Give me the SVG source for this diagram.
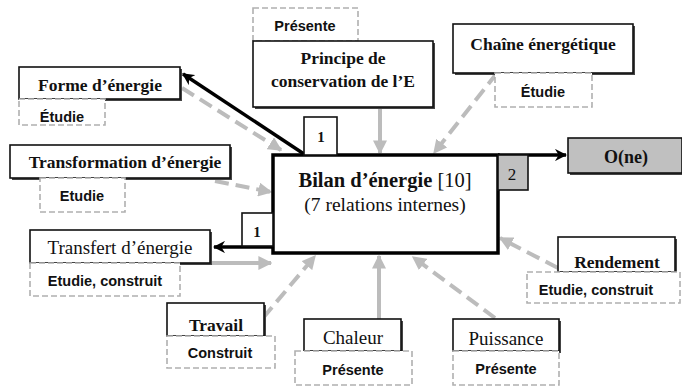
<svg xmlns="http://www.w3.org/2000/svg" width="682" height="387" viewBox="0 0 682 387">
<style>
.box{fill:#fff;stroke:#111;stroke-width:1.6}
.gbox{fill:#c0c0c0;stroke:#111;stroke-width:1.6}
.sh{fill:#444}
.dbox{fill:#fff;stroke:#b0b0b0;stroke-width:1.6;stroke-dasharray:6 3}
.t{font-family:"Liberation Serif",serif;font-size:17.5px;font-weight:bold;fill:#111;text-anchor:middle}
.n{font-family:"Liberation Serif",serif;font-size:19px;font-weight:normal;fill:#111;text-anchor:middle}
.s{font-family:"Liberation Sans",Arial,sans-serif;font-size:14.5px;font-weight:bold;fill:#111;text-anchor:middle}
.g{fill:none;stroke:#bcbcbc;stroke-width:4;stroke-dasharray:14 7}
.gs{fill:none;stroke:#bcbcbc;stroke-width:4}
.k{fill:none;stroke:#000;stroke-width:3.5}
</style>
<defs>
<marker id="ga" viewBox="0 0 10 10" refX="9" refY="5" markerWidth="3.5" markerHeight="3.5" orient="auto" markerUnits="strokeWidth"><path d="M0,0 L10,5 L0,10 Z" fill="#bcbcbc"/></marker>
<marker id="ka" viewBox="0 0 10 10" refX="9" refY="5" markerWidth="3.5" markerHeight="3.5" orient="auto" markerUnits="strokeWidth"><path d="M0,0 L10,5 L0,10 L3,5 Z" fill="#000"/></marker>
</defs>
<g id="connectors">
<line class="g" x1="182" y1="88" x2="281" y2="150" marker-end="url(#ga)"/>
<line class="g" x1="215" y1="181" x2="271" y2="192" marker-end="url(#ga)"/>
<line class="gs" x1="212" y1="263" x2="271" y2="263" marker-end="url(#ga)"/>
<line class="gs" x1="380" y1="107" x2="380" y2="153" marker-end="url(#ga)"/>
<line class="g" x1="497" y1="73" x2="434" y2="153" marker-end="url(#ga)"/>
<line class="g" x1="263" y1="318" x2="315" y2="256" marker-end="url(#ga)"/>
<line class="gs" x1="379" y1="320" x2="379" y2="256" marker-end="url(#ga)"/>
<line class="g" x1="495" y1="318" x2="413" y2="257" marker-end="url(#ga)"/>
<line class="g" x1="558" y1="268" x2="500" y2="238" marker-end="url(#ga)"/>
<line class="k" x1="304" y1="154" x2="183" y2="74" marker-end="url(#ka)"/>
<line class="k" x1="274" y1="247" x2="214" y2="247" marker-end="url(#ka)"/>
<line class="k" x1="498" y1="155" x2="566" y2="155" marker-end="url(#ka)"/>
</g>
<g id="bilan">
<rect x="273" y="155" width="225" height="98" fill="#fff" stroke="#000" stroke-width="3.5"/>
<text class="t" x="385" y="187" style="font-size:20.5px">Bilan d’énergie <tspan font-weight="normal">[10]</tspan></text>
<text class="n" x="385" y="211" style="font-size:19.5px">(7 relations internes)</text>
</g>
<g id="n1top">
<rect class="box" x="304" y="117" width="33" height="38"/>
<text class="t" x="321" y="142" style="font-size:15px">1</text>
</g>
<g id="n1left">
<rect class="box" x="242" y="213" width="31" height="33"/>
<text class="t" x="257" y="237" style="font-size:15px">1</text>
</g>
<g id="n2">
<rect class="gbox" x="498" y="155" width="30" height="35"/>
<text class="n" x="512" y="180" style="font-size:17px">2</text>
</g>
<g id="one">
<rect class="sh" x="570" y="140" width="114" height="35"/>
<rect class="gbox" x="568" y="138" width="114" height="35"/>
<text class="t" x="626" y="163" style="font-size:18px">O(ne)</text>
</g>
<g id="forme">
<rect class="sh" x="21" y="69" width="161" height="32"/>
<rect class="box" x="19" y="67" width="161" height="32"/>
<text class="t" x="100" y="91">Forme d’énergie</text>
<rect class="dbox" x="19" y="99" width="86" height="26"/>
<text class="s" x="62" y="122">Étudie</text>
</g>
<g id="principe">
<rect class="dbox" x="253" y="8" width="105" height="33"/>
<text class="s" x="305" y="31">Présente</text>
<rect class="sh" x="255" y="43" width="180" height="66"/>
<rect class="box" x="253" y="41" width="180" height="66"/>
<text class="t" x="343" y="64">Principe de</text>
<text class="t" x="343" y="87">conservation de l’E</text>
</g>
<g id="chaine">
<rect class="sh" x="455" y="26" width="180" height="49"/>
<rect class="box" x="453" y="24" width="180" height="49"/>
<text class="t" x="543" y="50">Chaîne énergétique</text>
<rect class="dbox" x="495" y="73" width="97" height="34"/>
<text class="s" x="543" y="97">Étudie</text>
</g>
<g id="transformation">
<rect class="sh" x="12" y="147" width="220" height="33"/>
<rect class="box" x="10" y="145" width="220" height="33"/>
<text class="t" x="125" y="168">Transformation d’énergie</text>
<rect class="dbox" x="40" y="178" width="85" height="34"/>
<text class="s" x="82" y="201">Etudie</text>
</g>
<g id="transfert">
<rect class="sh" x="32" y="232" width="180" height="33"/>
<rect class="box" x="30" y="230" width="180" height="33"/>
<text class="n" x="120" y="254">Transfert d’énergie</text>
<rect class="dbox" x="30" y="263" width="150" height="33"/>
<text class="s" x="105" y="286">Etudie, construit</text>
</g>
<g id="rendement">
<rect class="sh" x="560" y="239" width="117" height="35"/>
<rect class="box" x="558" y="237" width="117" height="35"/>
<text class="t" x="617" y="268">Rendement</text>
<rect class="dbox" x="527" y="272" width="153" height="31"/>
<text class="s" x="596" y="295">Etudie, construit</text>
</g>
<g id="travail">
<rect class="sh" x="169" y="305" width="97" height="33"/>
<rect class="box" x="167" y="303" width="97" height="33"/>
<text class="t" x="216" y="331">Travail</text>
<rect class="dbox" x="167" y="336" width="108" height="32"/>
<text class="s" x="220" y="358">Construit</text>
</g>
<g id="chaleur">
<rect class="sh" x="306" y="321" width="97" height="32"/>
<rect class="box" x="304" y="319" width="97" height="32"/>
<text class="n" x="353" y="344">Chaleur</text>
<rect class="dbox" x="295" y="351" width="117" height="34"/>
<text class="s" x="353" y="375">Présente</text>
</g>
<g id="puissance">
<rect class="sh" x="455" y="321" width="106" height="32"/>
<rect class="box" x="453" y="319" width="106" height="32"/>
<text class="n" x="506" y="345">Puissance</text>
<rect class="dbox" x="453" y="351" width="106" height="34"/>
<text class="s" x="506" y="374">Présente</text>
</g>
</svg>
